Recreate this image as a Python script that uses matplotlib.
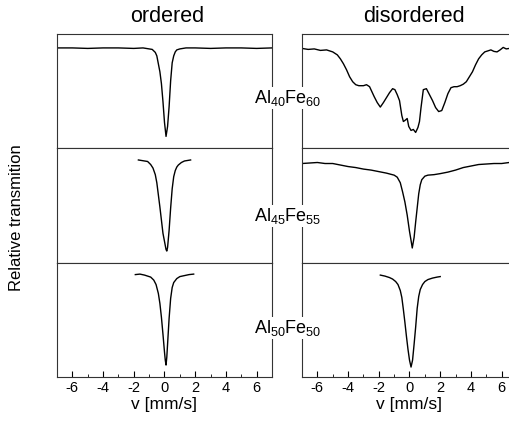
import matplotlib
matplotlib.use('Agg')
import matplotlib.pyplot as plt
from matplotlib.ticker import MultipleLocator

# Mossbauer spectra, velocity in mm/s, transmission relative to the baseline
v_ord_40 = [-7.0, -6.0, -5.0, -4.0, -3.0, -2.0, -1.4, -1.0, -0.8, -0.6, -0.5, -0.4, -0.3, -0.2, -0.1,
            0.0, 0.1, 0.2, 0.3, 0.4, 0.5, 0.6, 0.7, 0.8, 1.0, 1.4, 2.0, 3.0, 4.0, 5.0, 6.0, 7.0]
t_ord_40 = [1.000, 1.000, 0.999, 1.000, 1.000, 0.999, 1.000, 0.998, 0.997, 0.991, 0.984, 0.968, 0.952, 0.928, 0.892,
            0.850, 0.822, 0.842, 0.882, 0.934, 0.970, 0.984, 0.992, 0.996, 0.998, 1.000, 1.000, 0.999, 1.000, 1.000, 0.999, 1.000]

v_dis_40 = [-7.0, -6.6, -6.2, -5.8, -5.4, -5.0, -4.7, -4.5, -4.3, -4.1, -3.9, -3.7, -3.5, -3.3, -3.0, -2.8,
            -2.6, -2.45, -2.3, -2.1, -1.9, -1.7, -1.5, -1.3, -1.1, -0.95, -0.8, -0.65, -0.5, -0.4, -0.3,
            -0.15, -0.05, 0.1, 0.25, 0.4, 0.55, 0.65, 0.75, 0.9, 1.1, 1.3, 1.5, 1.7, 1.9, 2.1, 2.3, 2.5,
            2.7, 2.9, 3.1, 3.3, 3.5, 3.7, 3.9, 4.1, 4.3, 4.5, 4.7, 4.9, 5.1, 5.3, 5.5, 5.7, 5.9, 6.1,
            6.3, 6.5, 6.8, 7.0]
t_dis_40 = [0.999, 0.997, 0.998, 0.995, 0.996, 0.992, 0.986, 0.978, 0.968, 0.956, 0.942, 0.932, 0.926, 0.924, 0.924, 0.926,
            0.922, 0.912, 0.902, 0.890, 0.881, 0.890, 0.900, 0.910, 0.918, 0.916, 0.906, 0.894, 0.864, 0.852, 0.854,
            0.858, 0.842, 0.834, 0.836, 0.830, 0.840, 0.852, 0.880, 0.916, 0.918, 0.906, 0.894, 0.880, 0.872, 0.874, 0.890, 0.908,
            0.920, 0.922, 0.922, 0.924, 0.927, 0.932, 0.942, 0.952, 0.966, 0.978, 0.986, 0.992, 0.994, 0.996, 0.993, 0.992, 0.996, 1.001,
            0.998, 0.999, 1.000, 1.000]

v_ord_45 = [-1.7, -1.5, -1.3, -1.1, -0.9, -0.75, -0.6, -0.5, -0.4, -0.3, -0.2, -0.1, 0.0, 0.1, 0.15,
            0.2, 0.3, 0.4, 0.5, 0.6, 0.7, 0.8, 0.9, 1.1, 1.3, 1.5, 1.7]
t_ord_45 = [1.000, 0.999, 0.998, 0.997, 0.991, 0.984, 0.971, 0.955, 0.931, 0.907, 0.881, 0.855, 0.839, 0.823, 0.820,
            0.827, 0.861, 0.905, 0.943, 0.967, 0.979, 0.986, 0.990, 0.995, 0.998, 0.999, 1.000]

v_dis_45 = [-7.0, -6.5, -6.0, -5.5, -5.0, -4.5, -4.0, -3.5, -3.0, -2.5, -2.0, -1.5, -1.0, -0.8, -0.6, -0.45,
            -0.3, -0.15, 0.0, 0.1, 0.18, 0.3, 0.4, 0.5, 0.6, 0.7, 0.8, 1.0, 1.2, 1.6, 2.0, 2.5, 3.0, 3.5,
            4.0, 4.5, 5.0, 5.5, 6.0, 6.5, 7.0]
t_dis_45 = [1.000, 1.001, 1.002, 1.000, 1.000, 0.997, 0.994, 0.992, 0.989, 0.987, 0.984, 0.981, 0.977, 0.973, 0.962, 0.944,
            0.924, 0.898, 0.866, 0.848, 0.833, 0.854, 0.884, 0.912, 0.940, 0.958, 0.968, 0.975, 0.977, 0.978, 0.980, 0.983, 0.987, 0.992,
            0.995, 0.998, 0.999, 1.000, 1.000, 1.002, 1.001]

v_ord_50 = [-1.9, -1.6, -1.3, -1.1, -0.9, -0.7, -0.55, -0.4, -0.3, -0.2, -0.1, 0.0, 0.05, 0.1, 0.15,
            0.2, 0.3, 0.4, 0.5, 0.6, 0.8, 1.0, 1.3, 1.6, 1.9]
t_ord_50 = [1.000, 1.001, 0.999, 0.997, 0.995, 0.989, 0.980, 0.962, 0.942, 0.914, 0.880, 0.844, 0.828, 0.818, 0.834,
            0.860, 0.912, 0.952, 0.974, 0.984, 0.992, 0.996, 0.998, 1.000, 1.001]

v_dis_50 = [-1.9, -1.6, -1.3, -1.1, -0.9, -0.75, -0.6, -0.5, -0.4, -0.3, -0.2, -0.1, 0.0, 0.1,
            0.2, 0.3, 0.4, 0.5, 0.6, 0.7, 0.85, 1.0, 1.2, 1.5, 1.8, 2.0]
t_dis_50 = [1.001, 0.999, 0.996, 0.993, 0.988, 0.982, 0.970, 0.956, 0.932, 0.906, 0.878, 0.852, 0.830, 0.816,
            0.830, 0.862, 0.896, 0.934, 0.958, 0.972, 0.982, 0.988, 0.992, 0.995, 0.997, 0.998]

columns = ['ordered', 'disordered']
samples = [r'Al$_{40}$Fe$_{60}$', r'Al$_{45}$Fe$_{55}$', r'Al$_{50}$Fe$_{50}$']


def main():
    plt.rcParams['font.family'] = ['Liberation Sans', 'DejaVu Sans']
    plt.rcParams['mathtext.fontset'] = 'custom'
    plt.rcParams['mathtext.rm'] = 'Liberation Sans'
    plt.rcParams['mathtext.it'] = 'Liberation Sans'
    plt.rcParams['axes.unicode_minus'] = False

    spectra = [[(v_ord_40, t_ord_40), (v_dis_40, t_dis_40)],
               [(v_ord_45, t_ord_45), (v_dis_45, t_dis_45)],
               [(v_ord_50, t_ord_50), (v_dis_50, t_dis_50)]]
    ylims = [[(0.798, 1.028), (0.798, 1.028)],
             [(0.797, 1.023), (0.804, 1.030)],
             [(0.794, 1.024), (0.796, 1.026)]]

    fig = plt.figure(figsize=(5.1, 4.25), dpi=100)
    lefts = [57 / 510, 302 / 510]
    width = 215 / 510
    bottom = 48 / 425
    height = (377 - 34) / 3 / 425

    for row in range(3):
        for col in range(2):
            ax = fig.add_axes([lefts[col], bottom + (2 - row) * height, width, height])
            v, t = spectra[row][col]
            ax.plot(v, t, color='black', lw=1.0)
            ax.set_xlim(-7, 7)
            ax.set_ylim(*ylims[row][col])
            ax.set_yticks([])
            for s in ax.spines.values():
                s.set_color('#333333')
                s.set_linewidth(0.8)
            if row == 2:
                ax.set_xticks([-6, -4, -2, 0, 2, 4, 6])
                ax.xaxis.set_minor_locator(MultipleLocator(1))
                ax.tick_params(axis='x', which='both', direction='in', labelsize=10.5, pad=3)
                ax.tick_params(axis='x', which='major', length=4)
                ax.tick_params(axis='x', which='minor', length=2)
                ax.set_xlabel('v [mm/s]', fontsize=12.5, labelpad=1)
            else:
                ax.set_xticks([])

    fig.text(167 / 510, 1 - 17 / 425, columns[0], ha='center', va='center', fontsize=15.5)
    fig.text(414 / 510, 1 - 17 / 425, columns[1], ha='center', va='center', fontsize=15.5)

    for y, name in zip([98, 216, 328], samples):
        fig.text(288 / 510, 1 - y / 425, name, ha='center', va='center', fontsize=13,
                 bbox=dict(facecolor='white', edgecolor='none', pad=1.0))

    fig.text(17 / 510, 1 - 218 / 425, 'Relative transmition', rotation=90,
             ha='center', va='center', fontsize=12)

    plt.savefig('out.png', dpi=100)


if __name__ == "__main__":
    main()
